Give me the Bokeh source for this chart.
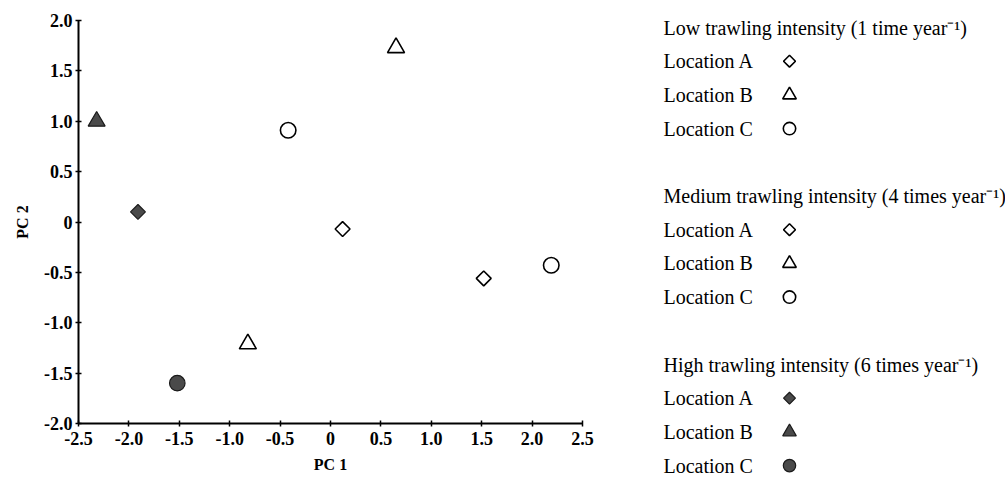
from bokeh.plotting import figure
from bokeh.models import Range1d, FixedTicker, ColumnDataSource, CustomJSTickFormatter
from bokeh.layouts import row
from bokeh.core.properties import value
from bokeh.embed import file_html
from bokeh.resources import INLINE
import numpy as np

# ---- data ----
intensities = ["Low", "Medium", "High"]
locations = ["Location A", "Location B", "Location C"]
group_titles = [
    "Low trawling intensity (1 time year\u207b\u00b9)",
    "Medium trawling intensity (4 times year\u207b\u00b9)",
    "High trawling intensity (6 times year\u207b\u00b9)",
]
low_pc1 = [0.12, 0.65, -0.42]
low_pc2 = [-0.07, 1.73, 0.91]
medium_pc1 = [1.52, -0.82, 2.19]
medium_pc2 = [-0.56, -1.21, -0.43]
high_pc1 = [-1.91, -2.32, -1.52]
high_pc2 = [0.10, 1.00, -1.60]
x_ticks = [-2.5, -2.0, -1.5, -1.0, -0.5, 0.0, 0.5, 1.0, 1.5, 2.0, 2.5]
y_ticks = [-2.0, -1.5, -1.0, -0.5, 0.0, 0.5, 1.0, 1.5, 2.0]

FONT = "Liberation Serif"
markers = ["diamond", "triangle", "circle"]
open_style = dict(fill_color="white", line_color="black", line_width=1.6)
filled_style = dict(fill_color="#4a4a4a", line_color="#1a1a1a", line_width=1.2)
styles = [open_style, open_style, filled_style]
series = [(low_pc1, low_pc2), (medium_pc1, medium_pc2), (high_pc1, high_pc2)]


def draw_marker(fig, x, y, kind, style, scale=1.0):
    src = ColumnDataSource(dict(x=x, y=y))
    if kind == "diamond":
        fig.scatter("x", "y", source=src, marker="square", size=10.5 * scale,
                    angle=np.pi / 4, **style)
    elif kind == "triangle":
        fig.scatter("x", "y", source=src, marker="triangle", size=17 * scale, **style)
    else:
        fig.scatter("x", "y", source=src, marker="circle", size=15.5 * scale, **style)


# ---- main scatter plot ----
H = 478
W1 = 630
p = figure(width=W1, height=H, x_range=Range1d(-2.5, 2.5), y_range=Range1d(-2.0, 2.0),
           output_backend="svg", toolbar_location=None,
           min_border_left=78, min_border_top=20, min_border_bottom=H - 423,
           min_border_right=W1 - 78 - 504)
p.frame_align = False
p.outline_line_color = None
p.grid.visible = False
p.background_fill_color = "white"

fmt = CustomJSTickFormatter(code="return tick == 0 ? '0' : tick.toFixed(1);")
for ax, ticks in ((p.xaxis, x_ticks), (p.yaxis, y_ticks)):
    ax.ticker = FixedTicker(ticks=ticks)
    ax.formatter = fmt
    ax.axis_line_width = 2
    ax.axis_line_color = "black"
    ax.major_tick_line_width = 1.5
    ax.major_tick_line_color = "black"
    ax.major_tick_in = 3
    ax.major_tick_out = 3
    ax.minor_tick_line_color = None
    ax.major_label_text_font = FONT
    ax.major_label_text_font_size = "18px"
    ax.major_label_text_font_style = "bold"
    ax.major_label_text_color = "black"
    ax.axis_label_text_font = FONT
    ax.axis_label_text_font_size = "16px"
    ax.axis_label_text_font_style = "bold"
    ax.axis_label_text_color = "black"

p.xaxis.axis_label = "PC 1"
p.yaxis.axis_label = "PC 2"
p.xaxis.major_label_standoff = 5
p.xaxis.axis_label_standoff = 8
p.yaxis.major_label_standoff = 3
p.yaxis.axis_label_standoff = 10

for (xs, ys), style in zip(series, styles):
    for i, kind in enumerate(markers):
        draw_marker(p, [xs[i]], [ys[i]], kind, style)

# ---- legend panel (pixel coordinates, y downwards) ----
W2 = 375
q = figure(width=W2, height=H, x_range=Range1d(0, W2), y_range=Range1d(H, 0),
           output_backend="svg", toolbar_location=None,
           x_axis_location=None, y_axis_location=None,
           min_border_left=0, min_border_right=0, min_border_top=0, min_border_bottom=0)
q.frame_align = False
q.outline_line_color = None
q.grid.visible = False

row_y0, row_dy = 27, 33.7
text_x, mark_x = 33, 159
tx, ty, tt = [], [], []
for g, title in enumerate(group_titles):
    base = g * 5
    tx.append(text_x); ty.append(row_y0 + base * row_dy); tt.append(title)
    for i, loc in enumerate(locations):
        yy = row_y0 + (base + 1 + i) * row_dy
        tx.append(text_x); ty.append(yy); tt.append(loc)
        draw_marker(q, [mark_x], [yy], markers[i], styles[g], scale=0.8)
q.text(x=tx, y=ty, text=tt, text_font=value(FONT), text_font_size="20px",
       text_baseline="middle", text_align="left", text_color="black")

layout = row(p, q)
open("out.html", "w").write(file_html(layout, INLINE))
